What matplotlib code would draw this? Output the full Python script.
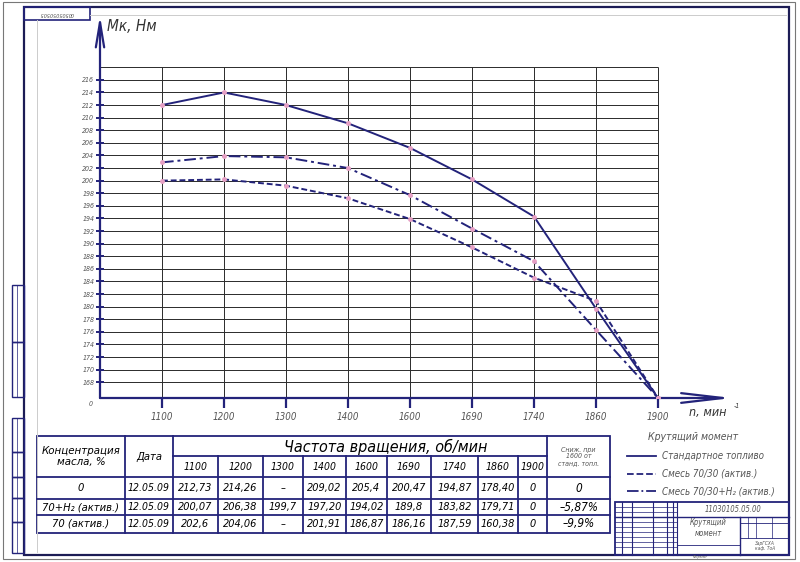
import numpy as np
import matplotlib
matplotlib.use('Agg')
import matplotlib.pyplot as plt

plt.rcParams['font.family'] = ['DejaVu Sans']

# --- данные графика ---
speeds = ['1100', '1200', '1300', '1400', '1600', '1690', '1740', '1860', '1900']
torque_std = [212.0, 214.0, 212.0, 209.1, 205.2, 200.2, 194.3, 179.7, 0]
torque_mix = [200.0, 200.2, 199.2, 197.2, 193.9, 189.4, 184.6, 180.9, 0]
torque_mix_h2 = [202.9, 203.9, 203.7, 202.0, 197.7, 192.4, 187.2, 176.3, 0]
y_ticks = list(range(168, 217, 2))

# --- данные таблицы ---
row_labels = ['0', '70+H₂ (актив.)', '70 (актив.)']
row_dates = ['12.05.09', '12.05.09', '12.05.09']
row_std = ['212,73', '214,26', '–', '209,02', '205,4', '200,47', '194,87', '178,40', '0']
row_h2 = ['200,07', '206,38', '199,7', '197,20', '194,02', '189,8', '183,82', '179,71', '0']
row_act = ['202,6', '204,06', '–', '201,91', '186,87', '186,16', '187,59', '160,38', '0']
row_drop = ['0', '–5,87%', '–9,9%']

NAVY = '#23237a'
GRAY = '#555555'
TXT = dict(family='DejaVu Sans', style='italic', fontstretch='condensed')

fig = plt.figure(figsize=(8, 5.62), dpi=100)

# фон листа в пиксельных координатах
bg = fig.add_axes([0, 0, 1, 1])
bg.set_xlim(0, 800)
bg.set_ylim(562, 0)
bg.axis('off')

# рамка листа
bg.add_patch(plt.Rectangle((3, 2), 792, 557, fill=False, lw=0.8, ec='#777777'))
bg.add_patch(plt.Rectangle((24, 7), 765, 548, fill=False, lw=1.6, ec='#1c1c55'))
bg.plot([37, 37], [20, 552], color='#cccccc', lw=0.7)
bg.plot([90, 786], [15, 15], color='#cccccc', lw=0.7)
bg.add_patch(plt.Rectangle((24, 7), 66, 13, fill=False, lw=1.2, ec=NAVY))
bg.text(57, 14, '00505050505', fontsize=4, color=GRAY, ha='center', va='center',
        rotation=180, **TXT)

# боковая полоса
for y0, y1 in [(285, 342), (342, 397), (418, 452), (452, 477), (477, 498), (498, 522), (522, 553)]:
    bg.add_patch(plt.Rectangle((12, y0), 12, y1 - y0, fill=False, lw=1.0, ec=NAVY))
    bg.plot([17, 17], [y0, y1], color=NAVY, lw=0.5)

# --- таблица ---
cols = [37, 125, 173, 218, 263, 303, 346, 387, 431, 478, 518, 547, 610]
rows = [436, 456, 477, 499, 515, 533]
lw_t = 1.3
bg.add_patch(plt.Rectangle((cols[0], rows[0]), cols[-1] - cols[0], rows[-1] - rows[0],
                           fill=False, lw=lw_t, ec=NAVY))
for y in rows[2:-1]:
    bg.plot([cols[0], cols[-1]], [y, y], color=NAVY, lw=lw_t)
bg.plot([cols[2], cols[-2]], [rows[1], rows[1]], color=NAVY, lw=lw_t)
for x in [cols[1], cols[2], cols[-2]]:
    bg.plot([x, x], [rows[0], rows[-1]], color=NAVY, lw=lw_t)
for x in cols[3:-2]:
    bg.plot([x, x], [rows[1], rows[-1]], color=NAVY, lw=lw_t)

bg.text((cols[0] + cols[1]) / 2, (rows[0] + rows[2]) / 2, 'Концентрация\nмасла, %',
        fontsize=8.2, ha='center', va='center', linespacing=1.1, **TXT)
bg.text((cols[1] + cols[2]) / 2, (rows[0] + rows[2]) / 2, 'Дата',
        fontsize=8, ha='center', va='center', **TXT)
bg.text(386, (rows[0] + rows[1]) / 2 + 1, 'Частота вращения, об/мин',
        fontsize=11.5, ha='center', va='center', **TXT)
bg.text((cols[-2] + cols[-1]) / 2, (rows[0] + rows[2]) / 2, 'Сниж. при\n1600 от\nстанд. топл.',
        fontsize=5, ha='center', va='center', color=GRAY, linespacing=1.1, **TXT)
for j, s in enumerate(speeds):
    bg.text((cols[j + 2] + cols[j + 3]) / 2, (rows[1] + rows[2]) / 2, s,
            fontsize=7.5, ha='center', va='center', **TXT)

for i, vals in enumerate([row_std, row_h2, row_act]):
    yc = (rows[i + 2] + rows[i + 3]) / 2
    bg.text((cols[0] + cols[1]) / 2, yc, row_labels[i], fontsize=8, ha='center', va='center', **TXT)
    bg.text((cols[1] + cols[2]) / 2, yc, row_dates[i], fontsize=7.5, ha='center', va='center', **TXT)
    for j, v in enumerate(vals):
        bg.text((cols[j + 2] + cols[j + 3]) / 2, yc, v, fontsize=7.8, ha='center', va='center', **TXT)
    bg.text((cols[-2] + cols[-1]) / 2, yc, row_drop[i], fontsize=8.5, ha='center', va='center', **TXT)

# --- легенда ---
bg.text(693, 437, 'Крутящий момент', fontsize=7.5, ha='center', va='center', color=GRAY, **TXT)
leg_items = [('-', 'Стандартное топливо'), ('--', 'Смесь 70/30 (актив.)'),
             ('-.', 'Смесь 70/30+H₂ (актив.)')]
for k, (ls, lab) in enumerate(leg_items):
    yy = 456 + 17.5 * k
    bg.plot([627, 656], [yy, yy], color=NAVY, lw=1.3, ls=ls)
    bg.text(662, yy, lab, fontsize=7, ha='left', va='center', color=GRAY, **TXT)

# --- штамп ---
st = dict(color=NAVY, lw=1.0)
bg.add_patch(plt.Rectangle((615, 502), 174, 53, fill=False, lw=1.3, ec=NAVY))
bg.plot([615, 789], [517, 517], **st)
for x in [622, 632, 653, 667, 673, 677]:
    bg.plot([x, x], [502, 555], color=NAVY, lw=0.8)
for y in [507, 512, 522, 527, 532, 537, 542, 547]:
    bg.plot([615, 677], [y, y], color=NAVY, lw=0.5)
bg.plot([740, 740], [517, 555], **st)
bg.plot([740, 789], [523, 523], color=NAVY, lw=0.6)
bg.plot([740, 789], [538, 538], color=NAVY, lw=0.6)
bg.plot([677, 740], [545, 545], color=NAVY, lw=0.6)
for x in [748, 756, 772]:
    bg.plot([x, x], [517, 538], color=NAVY, lw=0.5)
bg.text(733, 510, '11030105.05.00', fontsize=5.5, ha='center', va='center', color=GRAY, **TXT)
bg.text(708, 528, 'Крутящий\nмомент', fontsize=5.5, ha='center', va='center', color=GRAY,
        linespacing=1.3, **TXT)
bg.text(765, 546, 'ЗарГСХА\nкаф. ТоА', fontsize=3.5, ha='center', va='center', color=GRAY, **TXT)
bg.text(700, 557, 'Формат', fontsize=3, ha='center', va='center', color=GRAY, **TXT)

# --- график ---
y_min = 165.5
ax = fig.add_axes([100 / 800, (562 - 398) / 562, 651 / 800, 384 / 562])
ax.set_xlim(0, 10.5)
ax.set_ylim(y_min, y_min + 384 / 6.3)
ax.patch.set_alpha(0)
for sp in ax.spines.values():
    sp.set_visible(False)

x = np.arange(1, len(speeds) + 1)
ax.hlines(y_ticks + [218], 0, x[-1], color='#2a2a2a', lw=0.7, zorder=1)
ax.vlines(x, y_min, 218, color='#2a2a2a', lw=0.7, zorder=1)

# оси со стрелками
ax.annotate('', xy=(10.2, y_min), xytext=(0, y_min),
            arrowprops=dict(arrowstyle='->, head_length=30, head_width=3.5',
                            mutation_scale=1, color=NAVY, lw=1.6, shrinkA=0, shrinkB=0))
ax.annotate('', xy=(0, 226.2), xytext=(0, y_min),
            arrowprops=dict(arrowstyle='->, head_length=18, head_width=3',
                            mutation_scale=1, color=NAVY, lw=1.6, shrinkA=0, shrinkB=0))

ax.set_xticks(x)
ax.set_xticklabels(speeds)
ax.set_yticks(y_ticks)
ax.set_yticklabels([str(v) for v in y_ticks])
ax.tick_params(axis='x', direction='out', length=7, width=1.6, color=NAVY, pad=3,
               labelsize=7, labelcolor=GRAY)
ax.tick_params(axis='y', direction='inout', length=6, width=1.4, color=NAVY, pad=1,
               labelsize=5, labelcolor=GRAY)
for lab in ax.get_xticklabels() + ax.get_yticklabels():
    lab.set_fontstyle('italic')
    lab.set_fontstretch('condensed')

styles = [(torque_std, '-'), (torque_mix, (0, (3, 1.5))), (torque_mix_h2, (0, (6, 2, 1.5, 2)))]
for vals, ls in styles:
    v = np.array(vals, dtype=float)
    v = np.where(v == 0, y_min, v)  # 0 на оси с разрывом
    ax.plot(x, v, color=NAVY, lw=1.4, ls=ls, zorder=3)
    ax.plot(x, v, 'o', color='#e6a0c4', ms=2.5, zorder=4)

ax.text(0.11, 224.4, 'Мк, Нм', fontsize=11, ha='left', va='center', color='#333333', **TXT)
ax.text(-0.12, y_min - 1.0, '0', fontsize=5, ha='right', va='center', color=GRAY, **TXT)
ax.text(9.5, y_min - 2.3, 'n, мин', fontsize=9, ha='left', va='center', color='#333333', **TXT)
ax.text(10.22, y_min - 1.2, '-1', fontsize=5, ha='left', va='center', color='#333333', **TXT)

fig.savefig('out.png', dpi=100)
